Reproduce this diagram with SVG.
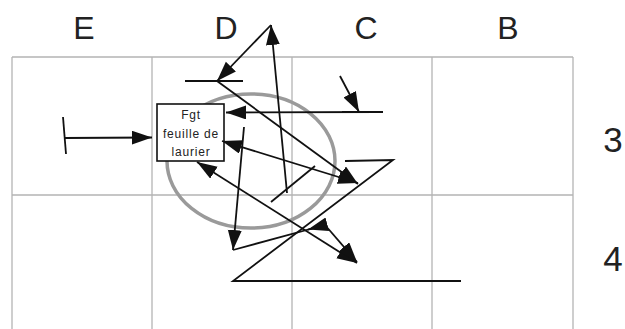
<svg xmlns="http://www.w3.org/2000/svg" width="625" height="329" viewBox="0 0 625 329">
<style>
.grid{stroke:#b4b4b4;stroke-width:1.3;fill:none}
.lbl{font-family:"Liberation Sans",Arial,sans-serif;fill:#222;text-anchor:middle}
.ln{stroke:#111;stroke-width:1.8;fill:none}
.arr{stroke:#111;stroke-width:1.8;fill:none;marker-end:url(#ah)}
.box{fill:#fff;stroke:#111;stroke-width:1.6}
.bt{font-family:"Liberation Sans",Arial,sans-serif;font-size:12px;letter-spacing:0.8px;fill:#222;text-anchor:middle}
</style>
<defs>
<marker id="ah" markerUnits="userSpaceOnUse" markerWidth="21" markerHeight="15" refX="20" refY="7" orient="auto">
<path d="M0,0 L20,7 L0,14 Z" fill="#111"/>
</marker>
<marker id="ahs" markerUnits="userSpaceOnUse" markerWidth="21" markerHeight="15" refX="20" refY="7" orient="auto-start-reverse">
<path d="M0,0 L20,7 L0,14 Z" fill="#111"/>
</marker>
</defs>
<rect width="625" height="329" fill="#fff"/>
<g id="grid">
<path class="grid" d="M12,57 H573 M12,195 H573 M12,57 V329 M152,57 V329 M292,57 V329 M432,57 V329 M573,57 V329"/>
</g>
<g id="labels">
<text class="lbl" x="84" y="39" font-size="32">E</text>
<text class="lbl" x="226" y="39" font-size="32">D</text>
<text class="lbl" x="366" y="39" font-size="32">C</text>
<text class="lbl" x="508" y="39" font-size="32">B</text>
<text class="lbl" x="613" y="152" font-size="35">3</text>
<text class="lbl" x="613" y="271" font-size="35">4</text>
</g>
<g id="zone">
<ellipse cx="251" cy="161" rx="84" ry="67" fill="none" stroke="#9a9a9a" stroke-width="3.5"/>
</g>
<g id="fgt">
<rect class="box" x="157" y="104" width="67" height="57"/>
<text class="bt" x="191" y="119">Fgt</text>
<text class="bt" x="191" y="138">feuille de</text>
<text class="bt" x="191" y="156">laurier</text>
</g>
<g id="connectors">
<path class="ln" d="M63,117 L66,154"/>
<path class="arr" d="M64,138 L152,137.5"/>
<path class="arr" d="M287,193 L271,25"/>
<path class="arr" d="M271,25 L217,81"/>
<path class="ln" d="M185,81 H243"/>
<path class="arr" d="M217,81 L358,184"/>
<path class="arr" d="M383,112 L226,112.5"/>
<path class="ln" d="M342,112 H383"/>
<path class="arr" d="M340,76 L359,112"/>
<path class="arr" d="M358,183 L222,141" style="marker-start:url(#ahs)"/>
<path class="arr" d="M357,263 L197,162" style="marker-start:url(#ahs)"/>
<path class="arr" d="M244,127 L233,250"/>
<path class="ln" d="M233,250 L325,225"/>
<path class="arr" d="M325,225 L308,229.6"/>
<path class="arr" d="M325,225 L357,262"/>
<path class="ln" d="M271,202 L315,166"/>
<path class="ln" d="M345,161 L393,160 L233,281 L461,281"/>
</g>
</svg>
